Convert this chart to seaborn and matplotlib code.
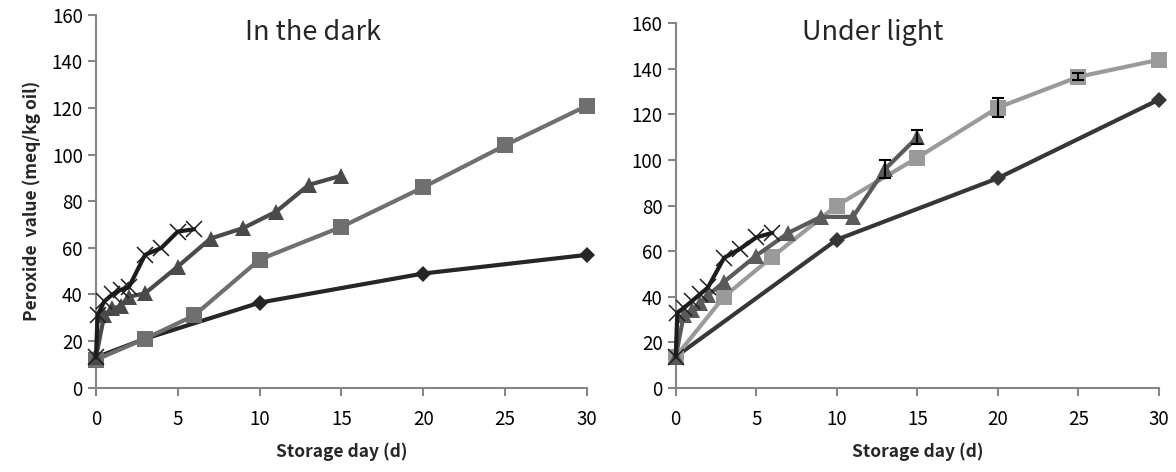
import matplotlib
matplotlib.use("Agg")
import matplotlib.pyplot as plt
import seaborn as sns
import pandas as pd

# Data (storage day vs peroxide value)
dark_diamond_days = [0, 3, 10, 20, 30]
dark_diamond_pv = [13, 21, 36.5, 49, 57]
dark_square_days = [0, 3, 6, 10, 15, 20, 25, 30]
dark_square_pv = [12, 21, 31, 55, 69, 86, 104, 121]
dark_tri_days = [0, 0.5, 1, 1.5, 2, 3, 5, 7, 9, 11, 13, 15]
dark_tri_pv = [13, 31, 34, 35, 39, 40.5, 52, 64, 68.5, 75.5, 87, 91]
dark_x_days = [0, 0.1, 0.5, 1, 1.5, 2, 3, 4, 5, 6]
dark_x_pv = [13, 31, 37, 40, 42, 43, 57, 60, 67, 68]

light_diamond_days = [0, 10, 20, 30]
light_diamond_pv = [13.6, 65, 92, 126.5]
light_square_days = [0, 3, 6, 10, 15, 20, 25, 30]
light_square_pv = [13.6, 40, 57.5, 80, 101, 123, 136.5, 144]
light_square_err = [0, 0, 0, 0, 0, 4, 1.5, 0]
light_tri_days = [0, 0.5, 1, 1.5, 2, 3, 5, 7, 9, 11, 13, 15]
light_tri_pv = [13.6, 32, 34, 37, 40.5, 46.5, 58, 68, 75, 75, 96, 110]
light_tri_err = [0, 0, 0, 0, 0, 0, 0, 0, 0, 0, 4, 3]
light_x_days = [0, 0.1, 0.5, 1, 1.5, 2, 3, 4, 5, 6]
light_x_pv = [13.6, 33, 35, 38, 41, 44, 57, 61, 66, 68]

sns.set_style("white")
plt.rcParams['font.family'] = ['Noto Sans CJK KR', 'DejaVu Sans']

fig = plt.figure(figsize=(11.76, 4.72), dpi=100)
ax1 = fig.add_axes([0.0816, 0.1786, 0.4175, 0.790])
ax2 = fig.add_axes([0.5746, 0.1786, 0.4109, 0.772])

axis_gray = "#868686"


def draw_series(ax, days, pv, color, marker, ms, lw=3.0, mew=0.0, zorder=3):
    df = pd.DataFrame({"day": days, "pv": pv})
    sns.lineplot(data=df, x="day", y="pv", ax=ax, color=color, marker=marker,
                 markersize=ms, linewidth=lw, markeredgewidth=mew,
                 markeredgecolor=color, sort=False, estimator=None,
                 clip_on=False, zorder=zorder)


def add_errors(ax, days, pv, err):
    for d, v, e in zip(days, pv, err):
        if e > 0:
            ax.errorbar(d, v, yerr=e, fmt="none", ecolor="black",
                        elinewidth=1.5, capsize=4, capthick=1.5, zorder=5)


# In the dark
draw_series(ax1, dark_diamond_days, dark_diamond_pv, "#262626", "D", 8)
draw_series(ax1, dark_square_days, dark_square_pv, "#6f6f6f", "s", 11.5)
draw_series(ax1, dark_tri_days, dark_tri_pv, "#4a4a4a", "^", 11.5)
draw_series(ax1, dark_x_days, dark_x_pv, "#1c1c1c", "x", 11, mew=1.1)

# Under light
draw_series(ax2, light_diamond_days, light_diamond_pv, "#363636", "D", 8)
draw_series(ax2, light_square_days, light_square_pv, "#9a9a9a", "s", 11.5)
draw_series(ax2, light_tri_days, light_tri_pv, "#5a5a5a", "^", 11.5)
draw_series(ax2, light_x_days, light_x_pv, "#1c1c1c", "x", 11, mew=1.1)
add_errors(ax2, light_square_days, light_square_pv, light_square_err)
add_errors(ax2, light_tri_days, light_tri_pv, light_tri_err)

for ax in [ax1, ax2]:
    ax.set_xlim(0, 30)
    ax.set_ylim(0, 160)
    ax.set_xticks(range(0, 31, 5))
    ax.set_yticks(range(0, 161, 20))
    for side in ["top", "right"]:
        ax.spines[side].set_visible(False)
    for side in ["left", "bottom"]:
        ax.spines[side].set_color(axis_gray)
        ax.spines[side].set_linewidth(1.5)
    ax.tick_params(axis="both", direction="out", length=6, width=1.5,
                   color=axis_gray, labelsize=13.5, labelcolor="black",
                   left=True, bottom=True)
    ax.tick_params(axis="x", pad=9)
    ax.set_xlabel("Storage day (d)", fontsize=12.5, fontweight="bold",
                  labelpad=9)
    ax.set_ylabel("")

fig.text(313 / 1176, 1 - 33 / 472, "In the dark", fontsize=19.5,
         ha="center", va="center")
fig.text(873 / 1176, 1 - 33 / 472, "Under light", fontsize=19.5,
         ha="center", va="center")

ax1.set_ylabel("Peroxide  value (meq/kg oil)", fontsize=12.5,
               fontweight="bold", labelpad=8)

fig.savefig("out.png", dpi=100)
